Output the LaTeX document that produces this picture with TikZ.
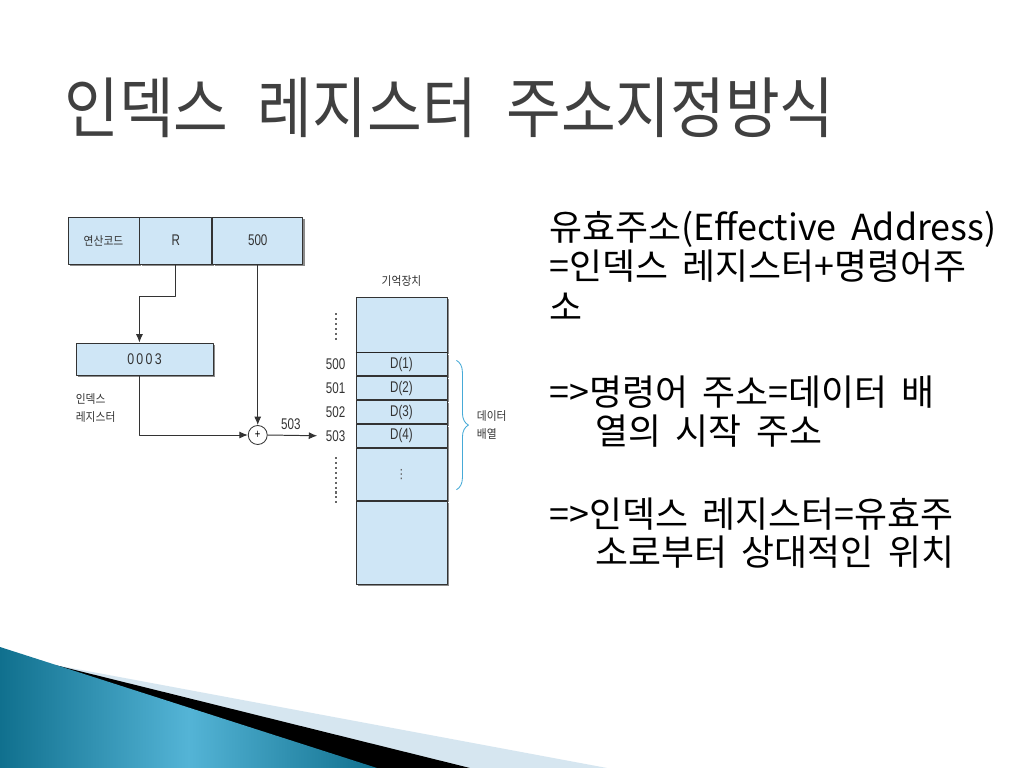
\documentclass[tikz,border=0pt]{standalone}
\usepackage{fontspec}
\setmainfont{Noto Sans CJK KR}
\newfontfamily\krtitle{Noto Sans CJK KR}[FakeStretch=0.9]
\newfontfamily\krbody{Noto Sans CJK KR}[WordSpace=1.8]
\newfontfamily\krn{Noto Sans CJK KR}[FakeStretch=0.9]
\newfontfamily\num{Liberation Sans}[FakeStretch=0.75]
\newfontfamily\numsp{Liberation Sans}[FakeStretch=0.8, LetterSpace=15]
\newfontfamily\dv{DejaVu Sans}
\usetikzlibrary{positioning,arrows.meta,shadows,decorations.pathreplacing,calc}
\definecolor{cellblue}{RGB}{207,230,246}
\definecolor{bracecol}{RGB}{70,170,215}
\definecolor{titlegray}{RGB}{64,64,64}
\definecolor{tealdark}{RGB}{16,112,142}
\definecolor{teallight}{RGB}{84,180,214}
\definecolor{bandblue}{RGB}{214,230,240}
\newcommand\tgap{\hspace{21pt}}
\tikzset{
	cell/.style={draw=black!80, line width=.6pt, fill=cellblue, inner sep=0pt,
		drop shadow={shadow xshift=1.5pt, shadow yshift=-1.5pt, fill=black!45, opacity=1},
		font=\num\fontsize{11}{12}\selectfont, text=black!80},
	instrcell/.style={cell, minimum height=1.175cm},
	memcell/.style={cell, minimum width=2.275cm, minimum height=.575cm},
	conn/.style={line width=.7pt, draw=black!80},
	arr/.style={conn, -{Latex[length=6pt,width=5pt]}},
	vdotline/.style={line width=.9pt, black!60, dash pattern=on 1.5pt off 2pt},
	small/.style={font=\krn\fontsize{8.5}{13}\selectfont, text=black!80, inner sep=0pt},
	numlbl/.style={font=\num\fontsize{11}{12}\selectfont, text=black!80, inner sep=0pt},
	body/.style={font=\krbody\fontsize{25.5}{29}\selectfont, anchor=base west, inner sep=0pt},
	brace/.style={decorate, decoration={brace, amplitude=.3cm}, draw=bracecol, line width=.6pt}
}
\begin{document}
\begin{tikzpicture}[x=0.025cm, y=-0.025cm, line join=round, >=Latex]
	\fill[white] (0,0) rectangle (1024,768);
	\useasboundingbox (0,0) rectangle (1024,768);
	% bottom swoosh
	\fill[bandblue] (55,665)--(607,768)--(0,768)--cycle;
	\fill[black] (55,665)--(470,768)--(0,768)--cycle;
	\shade[left color=tealdark, right color=tealdark, middle color=teallight]
	(0,647)--(377,768)--(0,768)--cycle;
	% title
	\node[anchor=west, inner sep=0pt, text=titlegray, font=\krtitle\fontsize{47}{52}\selectfont]
	(title) at (64,108) {인덱스\tgap 레지스터\tgap 주소지정방식};
	% text
	\node[body] (l1) at (549,240) {유효주소(Effective Address)};
	\node[body] (l2) at (549,279) {=인덱스 레지스터+명령어주};
	\node[body] (l3) at (549,320) {소};
	\node[body] (l4) at (549,405) {=>명령어 주소=데이터 배};
	\node[body] (l5) at (595,444) {열의 시작 주소};
	\node[body] (l6) at (549,527) {=>인덱스 레지스터=유효주};
	\node[body] (l7) at (595,565) {소로부터 상대적인 위치};
	% instruction
	\node[instrcell, minimum width=1.775cm, font=\krn\fontsize{8.5}{10}\selectfont] (opcode) at (103.5,240.5) {연산코드};
	\node[instrcell, minimum width=1.8cm, right=0pt of opcode] (reg) {R};
	\node[instrcell, minimum width=2.25cm, right=0pt of reg] (addr) {500};
	\node[cell, minimum width=3.425cm, minimum height=.8cm, font=\numsp\fontsize{11}{12}\selectfont] (idx) at (144.5,359) {0003};
	\node[small, align=left, below right=.45cm and 0cm of idx.south west] (idxlbl) {인덱스\\레지스터};
	\coordinate (sumy) at (0,435);
	\node[circle, draw=black!80, line width=.6pt, fill=white, minimum size=.475cm, inner sep=0pt,
	font=\num\fontsize{9}{10}\selectfont] (plus) at (addr.south |- sumy) {+};
	% memory
	\node[memcell, minimum height=1.375cm] (m0) at (401.5,324.5) {};
	\node[memcell, below=0pt of m0] (d1) {D(1)};
	\node[memcell, below=0pt of d1] (d2) {D(2)};
	\node[memcell, below=0pt of d2] (d3) {D(3)};
	\node[memcell, below=0pt of d3] (d4) {D(4)};
	\node[memcell, minimum height=1.3cm, below=0pt of d4, text=black!60, font=\dv\fontsize{9}{10}\selectfont] (dots) {⋮};
	\node[memcell, minimum height=2.075cm, below=0pt of dots] (m6) {};
	\draw[line width=1.3pt, black!85] (m0.south west) -- (m0.south east);
	\node[small, font=\krn\fontsize{8.5}{10}\selectfont, above=.25cm of m0] (memlbl) {기억장치};
	\node[numlbl, left=.25cm of d1] (a500) {500};
	\node[numlbl, left=.25cm of d2] (a501) {501};
	\node[numlbl, left=.25cm of d3] (a502) {502};
	\node[numlbl, left=.25cm of d4] (a503) {503};
	\draw[vdotline] (336,313) -- (336,342);
	\draw[vdotline] (336,457) -- (336,503);
	\draw[brace] ($(d1.north east)+(9,8)$) -- node[small, align=left, right=.5cm] (arrlbl) {데이터\\배열} ($(dots.south east)+(9,-11)$);
	% connectors
	\draw[arr] (reg.south) -- ++(0,32) -| (opcode.east |- idx.north);
	\draw[arr] (opcode.east |- idx.south) |- (plus.west);
	\draw[arr] (addr.south) -- (plus.north);
	\draw[arr, shorten >=6pt] (plus.east) -- node[numlbl, above=4pt, pos=.4] (sumlbl) {503} (a503.west);
\end{tikzpicture}
\end{document}
